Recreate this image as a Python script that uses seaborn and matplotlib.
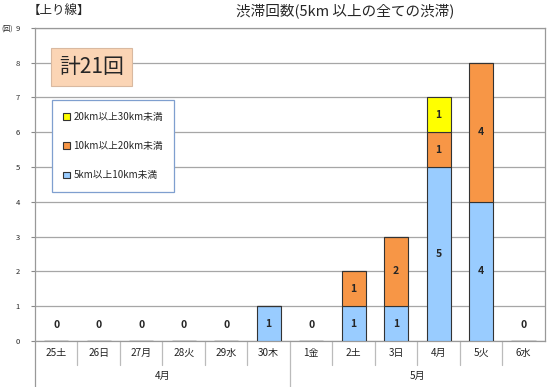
import matplotlib; matplotlib.use("Agg")
import matplotlib.pyplot as plt
import seaborn as sns
import numpy as np
import pandas as pd
from matplotlib.patches import Patch

days = ['25土', '26日', '27月', '28火', '29水', '30木', '1金', '2土', '3日', '4月', '5火', '6水']
months = ['4月', '5月']
month_span = [6, 6]
s5_10 = [0, 0, 0, 0, 0, 1, 0, 1, 1, 5, 4, 0]
s10_20 = [0, 0, 0, 0, 0, 0, 0, 1, 2, 1, 4, 0]
s20_30 = [0, 0, 0, 0, 0, 0, 0, 0, 0, 1, 0, 0]
names = ['5km以上10km未満', '10km以上20km未満', '20km以上30km未満']
colors = ['#99CCFF', '#F79646', '#FFFF00']
total_text = '計21回'

sns.set_style("white")
plt.rcParams['font.family'] = ['Noto Sans CJK JP', 'DejaVu Sans']

df = pd.DataFrame({'day': days, 'a': s5_10, 'b': s10_20, 'c': s20_30})
fig = plt.figure(figsize=(5.5, 3.87), dpi=100)
ax = fig.add_axes([0.0636, 0.119, 0.927, 0.809])

bottom = np.zeros(len(days))
for col, name, c in zip(['a', 'b', 'c'], names, colors):
    vals = df[col].values
    sns.barplot(data=df, x='day', y=col, ax=ax, color=c, bottom=bottom, width=0.57,
                saturation=1, edgecolor='#333333', linewidth=0.8, label=name, zorder=3)
    for i, v in enumerate(vals):
        if v > 0:
            ax.text(i, bottom[i] + v / 2, str(v), ha='center', va='center',
                    fontsize=7.5, fontweight='bold', zorder=4)
    bottom = bottom + vals
for i, t in enumerate(bottom):
    if t == 0:
        ax.text(i, 0.45, '0', ha='center', va='center', fontsize=7.5, fontweight='bold')

ax.set_ylim(0, 9)
ax.set_xlim(-0.5, len(days) - 0.5)
ax.set_yticks(range(10))
ax.yaxis.grid(True, color='#a6a6a6', linewidth=0.9, zorder=0)
ax.set_axisbelow(True)
ax.tick_params(axis='y', labelsize=5.5, length=3, pad=8, left=True, color='#888888')
ax.set_xticks([])
ax.set_xlabel(''); ax.set_ylabel('')
for s in ax.spines.values():
    s.set_color('#999999'); s.set_linewidth(0.9)

# category rows
h1, h2 = -0.077, -0.147
for i in range(len(days)):
    ax.text(i, h1 / 2, days[i], transform=ax.get_xaxis_transform(), ha='center', va='center',
            fontsize=7.2, color='#222222')
for i in range(1, len(days)):
    x = i - 0.5
    y2 = h2 if i == month_span[0] else h1
    ax.plot([x, x], [0, y2], transform=ax.get_xaxis_transform(), color='#bbbbbb',
            linewidth=0.9, clip_on=False)
ax.plot([-0.5, -0.5], [0, h2], transform=ax.get_xaxis_transform(), color='#999999',
        linewidth=0.9, clip_on=False)
start = 0
for m, n in zip(months, month_span):
    ax.text(start + n / 2 - 0.5, (h1 + h2) / 2, m, transform=ax.get_xaxis_transform(),
            ha='center', va='center', fontsize=7.2, color='#222222')
    start += n

# titles
fig.text(0.05, 0.973, '【上り線】', fontsize=9, ha='left', va='center')
fig.text(0.628, 0.973, '渋滞回数(5km 以上の全ての渋滞)', fontsize=10.5, ha='center', va='center')
fig.text(0.003, 0.927, '(回)', fontsize=5, ha='left', va='center')

# total box
fig.text(0.166, 0.827, total_text, fontsize=15, ha='center', va='center',
         bbox=dict(boxstyle='square,pad=0.4', fc='#FBD5B5', ec='#d9b9a0', lw=0.8))

# legend
handles = [Patch(fc=c, ec='#333333', lw=0.8, label=n) for n, c in zip(names, colors)][::-1]
leg = ax.legend(handles=handles, loc='upper left', bbox_to_anchor=(0.033, 0.77),
                fontsize=7, frameon=True, fancybox=False, labelspacing=2.0,
                handlelength=0.7, handleheight=0.7, handletextpad=0.3,
                borderpad=1.2, borderaxespad=0)
leg.get_frame().set_edgecolor('#7f9fcf'); leg.get_frame().set_linewidth(0.9)
leg.get_frame().set_alpha(1)

fig.savefig('out.png', dpi=100)
